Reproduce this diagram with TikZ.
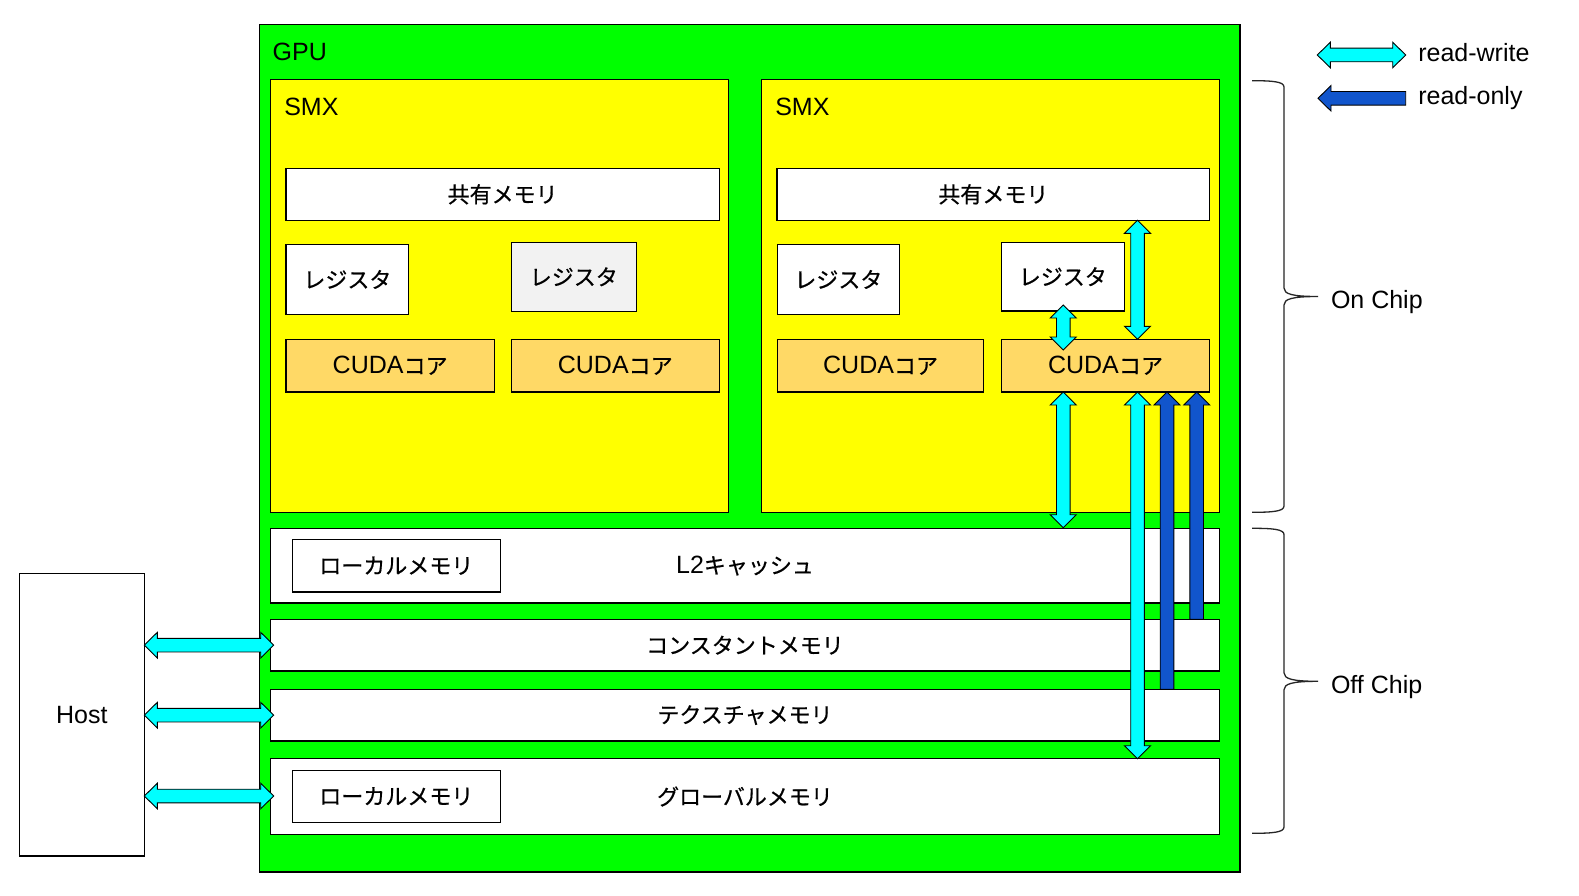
\documentclass[tikz,border=0pt]{standalone}
\usepackage{fontspec}
\setmainfont{Liberation Sans}
\newfontfamily\jp{Noto Sans CJK JP}[Scale=0.88, FakeBold=0.6]
\usetikzlibrary{calc}
\definecolor{gpugreen}{HTML}{00FF00}
\definecolor{smxyellow}{HTML}{FFFF00}
\definecolor{coreorange}{HTML}{FFD966}
\definecolor{reggray}{HTML}{F2F2F2}
\definecolor{rwcyan}{HTML}{00FFFF}
\definecolor{roblue}{HTML}{1155CC}
\tikzset{
  rect/.style={draw=black, line width=1.3pt, inner sep=0pt, outer sep=0pt, anchor=north west},
  gpubox/.style={rect, fill=gpugreen},
  smxbox/.style={rect, fill=smxyellow},
  membox/.style={rect, fill=white},
  regbox/.style={rect, fill=white},
  corebox/.style={rect, fill=coreorange},
  blockarrow/.style={draw=black, line width=0.9pt, line join=miter},
  brace/.style={draw=black!85, line width=1.3pt},
  lbl/.style={inner sep=0pt, outer sep=0pt, anchor=base west},
  every node/.style={font=\fontsize{25}{30}\selectfont}
}
% vertical double block arrow: #1 top, #2 bottom, #3 fill
\newcommand\dblV[3]{\draw[blockarrow,fill=#3] let \p1=#1, \p2=#2 in
  (\x1,\y1) -- (\x1+13pt,\y1-13pt) -- (\x1+6.8pt,\y1-13pt) -- (\x1+6.8pt,\y2+13pt)
  -- (\x1+13pt,\y2+13pt) -- (\x1,\y2) -- (\x1-13pt,\y2+13pt) -- (\x1-6.8pt,\y2+13pt)
  -- (\x1-6.8pt,\y1-13pt) -- (\x1-13pt,\y1-13pt) -- cycle;}
% vertical single block arrow, tip at top: #1 top, #2 bottom, #3 fill
\newcommand\upV[3]{\draw[blockarrow,fill=#3] let \p1=#1, \p2=#2 in
  (\x1,\y1) -- (\x1+13pt,\y1-13pt) -- (\x1+6.8pt,\y1-13pt) -- (\x1+6.8pt,\y2)
  -- (\x1-6.8pt,\y2) -- (\x1-6.8pt,\y1-13pt) -- (\x1-13pt,\y1-13pt) -- cycle;}
% horizontal double block arrow: #1 left, #2 right, #3 fill
\newcommand\dblH[3]{\draw[blockarrow,fill=#3] let \p1=#1, \p2=#2 in
  (\x1,\y1) -- (\x1+13pt,\y1+12.8pt) -- (\x1+13pt,\y1+6.8pt) -- (\x2-13pt,\y1+6.8pt)
  -- (\x2-13pt,\y1+12.8pt) -- (\x2,\y1) -- (\x2-13pt,\y1-12.8pt) -- (\x2-13pt,\y1-6.8pt)
  -- (\x1+13pt,\y1-6.8pt) -- (\x1+13pt,\y1-12.8pt) -- cycle;}
% horizontal single block arrow, tip at left: #1 left, #2 right, #3 fill
\newcommand\leftH[3]{\draw[blockarrow,fill=#3] let \p1=#1, \p2=#2 in
  (\x1,\y1) -- (\x1+13pt,\y1+12.8pt) -- (\x1+13pt,\y1+6.8pt) -- (\x2,\y1+6.8pt)
  -- (\x2,\y1-6.8pt) -- (\x1+13pt,\y1-6.8pt) -- (\x1+13pt,\y1-12.8pt) -- cycle;}
\begin{document}
\begin{tikzpicture}[x=1pt,y=-1pt]
\useasboundingbox[fill=white] (0,0) rectangle (1579,896);

% GPU and SMX frames
\node[gpubox, minimum width=980.5pt, minimum height=847.5pt] (gpu) at (259.5,24.5) {};
\node[lbl] (gputxt) at (272.7,61) {GPU};
\node[smxbox, minimum width=457.6pt, minimum height=433pt] (smxL) at (270.7,79.3) {};
\node[smxbox, minimum width=457.6pt, minimum height=433pt] (smxR) at (761.7,79.3) {};
\node[lbl] (smxLtxt) at (284.3,116) {SMX};
\node[lbl] (smxRtxt) at (775.3,116) {SMX};

% shared memory
\node[membox, minimum width=433.3pt, minimum height=52pt] (shL) at (286,168.3) {\jp 共有メモリ};
\node[membox, minimum width=432.7pt, minimum height=52pt] (shR) at (777,168.3) {\jp 共有メモリ};

% registers
\node[regbox, minimum width=122.8pt, minimum height=69.5pt] (regL1) at (286,244.7) {\jp レジスタ};
\node[regbox, fill=reggray, minimum width=125pt, minimum height=69pt] (regL2) at (511.3,242.3) {\jp レジスタ};
\node[regbox, minimum width=121.9pt, minimum height=69.5pt] (regR1) at (777.4,244.7) {\jp レジスタ};
\node[regbox, minimum width=123pt, minimum height=68.7pt] (regR2) at (1001.3,242.3) {\jp レジスタ};

% CUDA cores
\node[corebox, minimum width=208.3pt, minimum height=52.7pt] (cudaL1) at (286,339.3) {CUDA{\jp コア}};
\node[corebox, minimum width=208pt, minimum height=52.7pt] (cudaL2) at (511.3,339.3) {CUDA{\jp コア}};
\node[corebox, minimum width=206.4pt, minimum height=52.7pt] (cudaR1) at (777.4,339.3) {CUDA{\jp コア}};
\node[corebox, minimum width=208.4pt, minimum height=52.7pt] (cudaR2) at (1001.3,339.3) {CUDA{\jp コア}};

% memory rows
\node[membox, minimum width=948.6pt, minimum height=74.3pt] (l2) at (270.7,528.7) {L2{\jp キャッシュ}};
\node[membox, minimum width=208pt, minimum height=52.7pt] (locL2) at (292.3,539.3) {\jp ローカルメモリ};
\node[membox, minimum width=948.6pt, minimum height=51.7pt] (const) at (270.7,619.3) {\jp コンスタントメモリ};
\node[membox, minimum width=948.6pt, minimum height=51.7pt] (tex) at (270.7,689.3) {\jp テクスチャメモリ};
\node[membox, minimum width=948.6pt, minimum height=75.6pt] (glob) at (270.7,758.7) {\jp グローバルメモリ};
\node[membox, minimum width=208pt, minimum height=52pt] (locG) at (292.3,770.3) {\jp ローカルメモリ};

% host
\node[membox, minimum width=125pt, minimum height=282.7pt] (host) at (19.3,573.3) {Host};

% arrow columns
\coordinate (xa) at (1063.3,0);
\coordinate (xb) at (1137.5,0);
\coordinate (xe) at (1167,0);
\coordinate (xf) at (1196.7,0);

\dblV{($(xa |- regR2.south)+(0,-6)$)}{($(xa |- cudaR2.north)+(0,10.7)$)}{rwcyan}
\dblV{(xb |- shR.south)}{(xb |- cudaR2.north)}{rwcyan}
\dblV{(xa |- cudaR2.south)}{($(xa |- l2.north)+(0,-1)$)}{rwcyan}
\dblV{(xb |- cudaR2.south)}{(xb |- glob.north)}{rwcyan}
\upV{(xe |- cudaR2.south)}{(xe |- tex.north)}{roblue}
\upV{(xf |- cudaR2.south)}{(xf |- const.north)}{roblue}

% host arrows
\dblH{(host.east |- const.west)}{($(const.west)+(3,0)$)}{rwcyan}
\dblH{(host.east |- tex.west)}{($(tex.west)+(3,0)$)}{rwcyan}
\dblH{($(host.east |- glob.west)+(0,-0.5)$)}{($(glob.west)+(3,-0.5)$)}{rwcyan}

% legend
\coordinate (rwL) at (1317.3,55);
\coordinate (rwR) at (1405.7,55);
\coordinate (roL) at (1318,98.3);
\coordinate (roR) at (1405.7,98.3);
\dblH{(rwL)}{(rwR)}{rwcyan}
\leftH{(roL)}{(roR)}{roblue}
\node[lbl] (rwtxt) at (1418.3,61.5) {read-write};
\node[lbl] (rotxt) at (1418.3,105) {read-only};

% braces
\draw[brace] (1252,80.7) .. controls (1272,80.7) and (1284,81.5) .. (1284,87)
  -- (1284,288) .. controls (1284,294) and (1292,296.5) .. (1318,296.5)
  .. controls (1292,296.5) and (1284,299) .. (1284,305)
  -- (1284,506) .. controls (1284,511.5) and (1272,512.3) .. (1252,512.3);
\node[lbl] (onchip) at (1331,308.3) {On Chip};
\draw[brace] (1252,528.3) .. controls (1272,528.3) and (1284,529.1) .. (1284,534.6)
  -- (1284,672.8) .. controls (1284,678.8) and (1292,681.3) .. (1318,681.3)
  .. controls (1292,681.3) and (1284,683.8) .. (1284,689.8)
  -- (1284,827) .. controls (1284,832.5) and (1272,833.3) .. (1252,833.3);
\node[lbl] (offchip) at (1331,693) {Off Chip};
\end{tikzpicture}
\end{document}
